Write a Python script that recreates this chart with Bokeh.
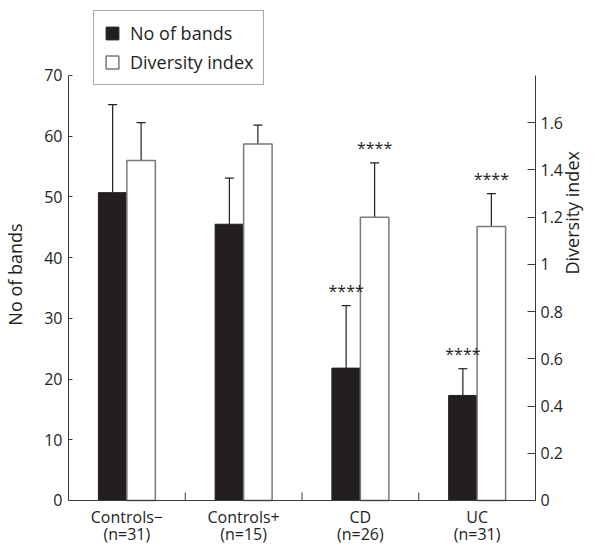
import math
from bokeh.plotting import figure
from bokeh.models import (ColumnDataSource, FactorRange, Range1d, LinearAxis,
                          FixedTicker, Whisker, TeeHead, Legend, LegendItem, NumeralTickFormatter,
                          Span)
from bokeh.transform import dodge
from bokeh.core.properties import value
from bokeh.embed import file_html
from bokeh.resources import INLINE

# ---- data ----
categories = ["Controls\u2212", "Controls+", "CD", "UC"]
group_sizes = ["(n=31)", "(n=15)", "(n=26)", "(n=31)"]
bands_mean = [50.7, 45.5, 21.8, 17.3]
bands_err_top = [65.2, 53.1, 32.1, 21.7]
div_mean = [1.44, 1.51, 1.20, 1.16]
div_err_top = [1.60, 1.59, 1.43, 1.30]
bands_sig = ["", "", "****", "****"]
div_sig = ["", "", "****", "****"]
left_ticks = [0, 10, 20, 30, 40, 50, 60, 70]
right_ticks = [0, 0.2, 0.4, 0.6, 0.8, 1, 1.2, 1.4, 1.6]
LEFT_MAX = 70      # top of the drawn left axis
RIGHT_MAX = 1.8    # top of the drawn right axis

# ---- layout (frame is extended above and below the axes for legend / labels) ----
Y_HI = 81.69
Y_LO = -7.25
SCALE_R = RIGHT_MAX / LEFT_MAX
FONT = "Open Sans"
INK = "#231f20"
AXIS = "#3a3a3a"
OUTLINE = "#7a7a7a"

src = ColumnDataSource(dict(cat=categories, n=group_sizes, base=[0] * len(categories),
                            bands=bands_mean, bands_hi=bands_err_top,
                            div=div_mean, div_hi=div_err_top,
                            bands_sig=bands_sig, div_sig=div_sig))
# group separators sit after every category but the last
sep_src = ColumnDataSource(dict(cat=categories[:-1], base=[0] * (len(categories) - 1)))

p = figure(width=599, height=544,
           x_range=FactorRange(*categories), y_range=Range1d(Y_LO, Y_HI),
           output_backend="svg", toolbar_location=None,
           x_axis_location=None, y_axis_location="left",
           min_border_left=63, min_border_right=52, min_border_top=4, min_border_bottom=0,
           outline_line_color=None, background_fill_color="white")
p.grid.visible = False
p.extra_y_ranges = {"div": Range1d(Y_LO * SCALE_R, Y_HI * SCALE_R)}

def style_axis(ax):
    ax.major_label_text_font = FONT
    ax.major_label_text_font_size = "16px"
    ax.major_label_text_color = INK
    ax.axis_label_text_font = FONT
    ax.axis_label_text_font_size = "18px"
    ax.axis_label_text_font_style = "normal"
    ax.axis_label_text_color = INK
    ax.axis_line_color = AXIS
    ax.major_tick_line_color = AXIS
    ax.minor_tick_line_color = None
    ax.major_tick_out = 0
    ax.minor_tick_out = 0
    ax.minor_tick_in = 0

ly = p.yaxis[0]
ly.ticker = FixedTicker(ticks=left_ticks)
ly.bounds = (0, LEFT_MAX)
ly.axis_label = "No of bands"
style_axis(ly)
ly.major_tick_in = 4
ly.major_label_standoff = 6
ly.axis_label_standoff = 14

ry = LinearAxis(y_range_name="div", ticker=FixedTicker(ticks=right_ticks),
                formatter=NumeralTickFormatter(format="0.[0]"), axis_label="Diversity index",
                bounds=(0, RIGHT_MAX))
style_axis(ry)
ry.major_tick_in = 8
ry.major_label_standoff = 5
ry.axis_label_standoff = 6
ry.axis_label_orientation = math.pi / 2
p.add_layout(ry, "right")

# x baseline at zero
p.add_layout(Span(location=0, dimension="width", line_color=AXIS, line_width=1))

W = 0.244
OFF = 0.122
black = p.vbar(x=dodge("cat", -OFF, range=p.x_range), top="bands", bottom=0, width=W,
               source=src, fill_color=INK, line_color=INK)
white = p.vbar(x=dodge("cat", OFF, range=p.x_range), top="div", bottom=0, width=W,
               source=src, y_range_name="div", fill_color="white", line_color=OUTLINE,
               line_width=1.5)

# short upward separator ticks between groups
p.ray(x=dodge("cat", 0.5, range=p.x_range), y="base", source=sep_src,
      length=8, length_units="screen", angle=math.pi / 2,
      line_color=AXIS, line_width=1)

# category labels under the baseline
p.text(x="cat", y="base", text="cat", source=src, y_offset=17,
       text_align="center", text_baseline="middle",
       text_font=value(FONT), text_font_size="16px", text_color=INK)
p.text(x="cat", y="base", text="n", source=src, y_offset=34,
       text_align="center", text_baseline="middle",
       text_font=value(FONT), text_font_size="16px", text_color=INK)

wb = Whisker(base=dodge("cat", -OFF, range=p.x_range), lower="bands", upper="bands_hi",
             source=src, dimension="height", line_color=INK, line_width=1.2,
             upper_head=TeeHead(size=9, line_color=INK, line_width=1.2), lower_head=None)
ww = Whisker(base=dodge("cat", OFF, range=p.x_range), lower="div", upper="div_hi",
             source=src, dimension="height", line_color=INK, line_width=1.2,
             y_range_name="div",
             upper_head=TeeHead(size=9, line_color=INK, line_width=1.2), lower_head=None)
p.add_layout(wb)
p.add_layout(ww)

p.text(x=dodge("cat", -OFF, range=p.x_range), y="bands_hi", text="bands_sig", source=src,
       text_align="center", text_baseline="middle", y_offset=-15,
       text_font=value(FONT), text_font_size="16px", text_color=INK)
p.text(x=dodge("cat", OFF, range=p.x_range), y="div_hi", text="div_sig", source=src,
       y_range_name="div", text_align="center", text_baseline="middle", y_offset=-15,
       text_font=value(FONT), text_font_size="16px", text_color=INK)

legend = Legend(items=[LegendItem(label="No of bands", renderers=[black]),
                       LegendItem(label="Diversity index", renderers=[white])],
                location=(25, 459), orientation="vertical",
                border_line_color="#555555", border_line_width=1,
                background_fill_color="white", background_fill_alpha=1,
                padding=10, spacing=5, margin=0,
                glyph_width=16, glyph_height=16, label_standoff=10, label_height=16,
                label_text_font=FONT, label_text_font_size="18px", label_text_color=INK)
p.add_layout(legend)

open("out.html", "w").write(file_html(p, INLINE))
